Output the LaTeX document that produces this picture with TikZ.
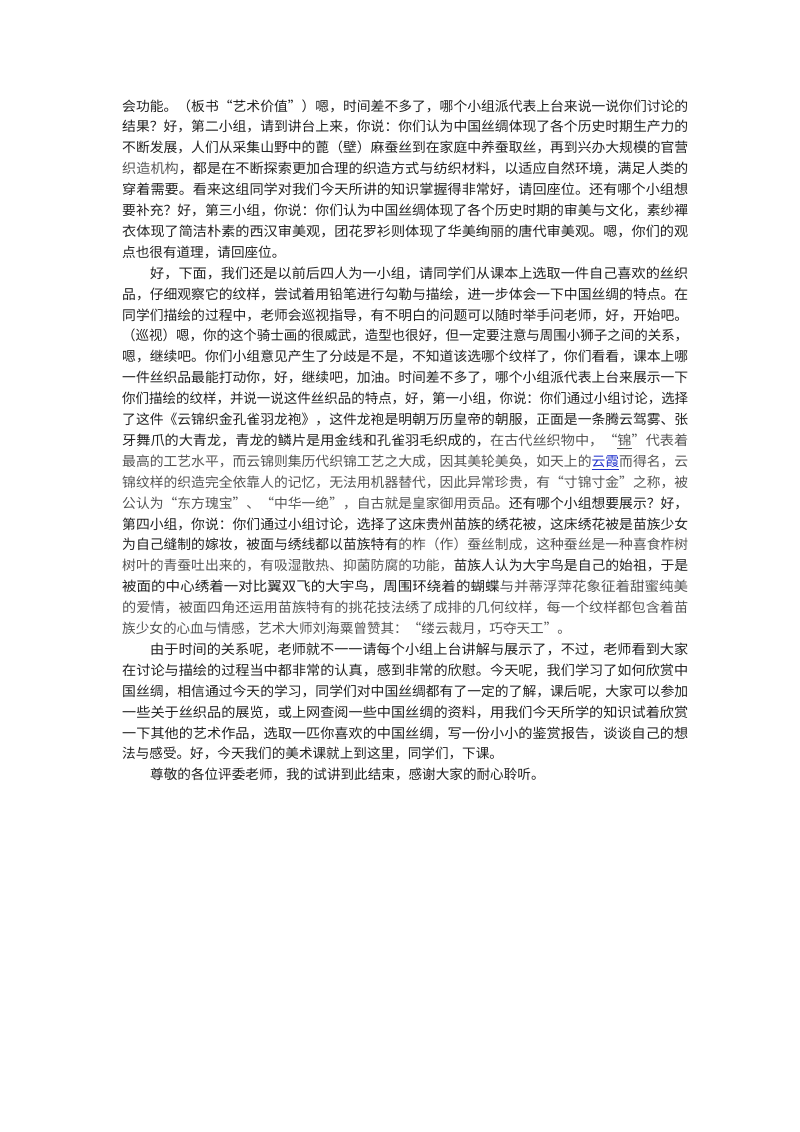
\documentclass[tikz,border=0pt]{standalone}
\usepackage{fontspec}
\usepackage{graphicx}
\setmainfont{Noto Sans CJK SC}
\definecolor{txt}{HTML}{222222}
\definecolor{lgt}{HTML}{555555}
\definecolor{lnk}{HTML}{2233CC}
\newcommand{\fl}[1]{\resizebox{566pt}{\height}{#1}}
\newcommand{\il}[1]{\resizebox{538pt}{\height}{#1}}
\begin{document}
\begin{tikzpicture}[x=1pt,y=1pt,
  ln/.style={anchor=base west,inner sep=0pt,text=txt,font=\fontsize{13.6pt}{16pt}\selectfont}]
\useasboundingbox (0,0) rectangle (800,-1132);
\fill[white] (0,0) rectangle (800,-1132);
\def\L#1#2#3{\node[ln] (l#1) at (#2,{-111-20.9*(#1-1)}) {#3};}
\L{1}{122}{\fl{会功能。（板书“艺术价值”）嗯，时间差不多了，哪个小组派代表上台来说一说你们讨论的}}
\L{2}{122}{\fl{结果？好，第二小组，请到讲台上来，你说：你们认为中国丝绸体现了各个历史时期生产力的}}
\L{3}{122}{\fl{不断发展，人们从采集山野中的蓖（壁）麻蚕丝到在家庭中养蚕取丝，再到兴办大规模的官营}}
\L{4}{122}{\fl{\textcolor{lgt}{织造机构}，都是在不断探索更加合理的织造方式与纺织材料，以适应自然环境，满足人类的}}
\L{5}{122}{\fl{穿着需要。看来这组同学对我们今天所讲的知识掌握得非常好，请回座位。还有哪个小组想}}
\L{6}{122}{\fl{要补充？好，第三小组，你说：你们认为中国丝绸体现了各个历史时期的审美与文化，素纱襌}}
\L{7}{122}{\fl{衣体现了简洁朴素的西汉审美观，团花罗衫则体现了华美绚丽的唐代审美观。嗯，你们的观}}
\L{8}{122}{点也很有道理，请回座位。}
\L{9}{150}{\il{好，下面，我们还是以前后四人为一小组，请同学们从课本上选取一件自己喜欢的丝织}}
\L{10}{122}{\fl{品，仔细观察它的纹样，尝试着用铅笔进行勾勒与描绘，进一步体会一下中国丝绸的特点。在}}
\L{11}{122}{\fl{同学们描绘的过程中，老师会巡视指导，有不明白的问题可以随时举手问老师，好，开始吧。}}
\L{12}{122}{\fl{（巡视）嗯，你的这个骑士画的很威武，造型也很好，但一定要注意与周围小狮子之间的关系，}}
\L{13}{122}{\fl{嗯，继续吧。你们小组意见产生了分歧是不是，不知道该选哪个纹样了，你们看看，课本上哪}}
\L{14}{122}{\fl{一件丝织品最能打动你，好，继续吧，加油。时间差不多了，哪个小组派代表上台来展示一下}}
\L{15}{122}{\fl{你们描绘的纹样，并说一说这件丝织品的特点，好，第一小组，你说：你们通过小组讨论，选择}}
\L{16}{122}{\fl{了这件《云锦织金孔雀羽龙袍》，这件龙袍是明朝万历皇帝的朝服，正面是一条腾云驾雾、张}}
\L{17}{122}{\fl{牙舞爪的大青龙，青龙的鳞片是用金线和孔雀羽毛织成的，\textcolor{lgt}{在古代丝织物中，“\underline{锦}”代表着}}}
\L{18}{122}{\fl{\textcolor{lgt}{最高的工艺水平，而云锦则集历代织锦工艺之大成，因其美轮美奂，如天上的}\textcolor{lnk}{\underline{云霞}}\textcolor{lgt}{而得名，云}}}
\L{19}{122}{\fl{\textcolor{lgt}{锦纹样的织造完全依靠人的记忆，无法用机器替代，因此异常珍贵，有“寸锦寸金”之称，被}}}
\L{20}{122}{\fl{\textcolor{lgt}{公认为“东方瑰宝”、“中华一绝”，自古就是皇家御用贡品。}还有哪个小组想要展示？好，}}
\L{21}{122}{\fl{第四小组，你说：你们通过小组讨论，选择了这床贵州苗族的绣花被，这床绣花被是苗族少女}}
\L{22}{122}{\fl{为自己缝制的嫁妆，被面与绣线都以苗族特有\textcolor{lgt}{的柞（作）蚕丝制成，这种蚕丝是一种喜食柞树}}}
\L{23}{122}{\fl{\textcolor{lgt}{树叶的青蚕吐出来的，有吸湿散热、抑菌防腐的功能，}苗族人认为大宇鸟是自己的始祖，于是}}
\L{24}{122}{\fl{被面的中心绣着一对比翼双飞的大宇鸟，周围环绕着的蝴蝶\textcolor{lgt}{与并蒂浮萍花象征着甜蜜纯美}}}
\L{25}{122}{\fl{\textcolor{lgt}{的爱情，被面四角还运用苗族特有的挑花技法绣了成排的几何纹样，每一个纹样都包含着苗}}}
\L{26}{122}{\textcolor{lgt}{族少女的心血与情感，艺术大师刘海粟曾赞其：“缕云裁月，巧夺天工”。}}
\L{27}{150}{\il{由于时间的关系呢，老师就不一一请每个小组上台讲解与展示了，不过，老师看到大家}}
\L{28}{122}{\fl{在讨论与描绘的过程当中都非常的认真，感到非常的欣慰。今天呢，我们学习了如何欣赏中}}
\L{29}{122}{\fl{国丝绸，相信通过今天的学习，同学们对中国丝绸都有了一定的了解，课后呢，大家可以参加}}
\L{30}{122}{\fl{一些关于丝织品的展览，或上网查阅一些中国丝绸的资料，用我们今天所学的知识试着欣赏}}
\L{31}{122}{\fl{一下其他的艺术作品，选取一匹你喜欢的中国丝绸，写一份小小的鉴赏报告，谈谈自己的想}}
\L{32}{122}{法与感受。好，今天我们的美术课就上到这里，同学们，下课。}
\L{33}{150}{尊敬的各位评委老师，我的试讲到此结束，感谢大家的耐心聆听。}
\end{tikzpicture}
\end{document}
